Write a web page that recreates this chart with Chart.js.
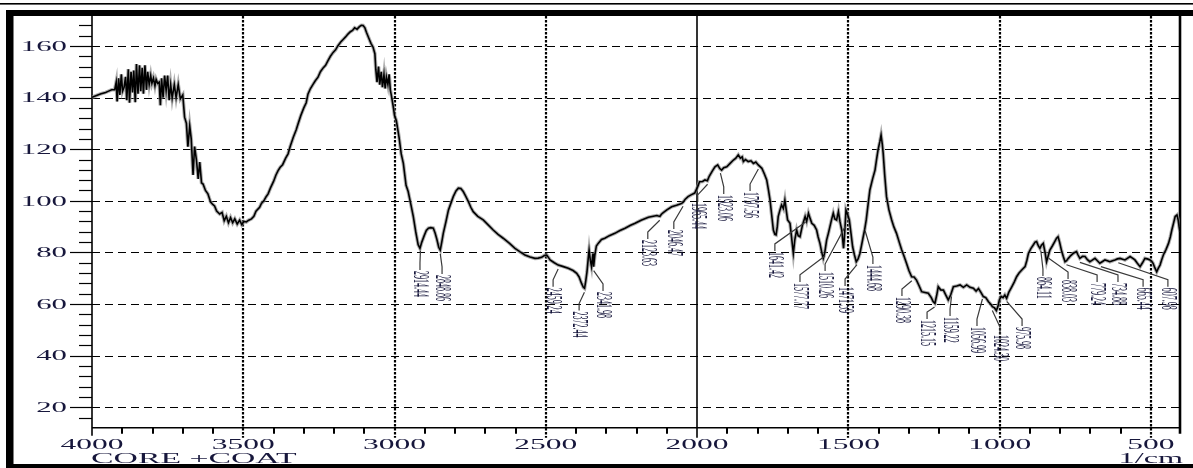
<!DOCTYPE html>
<html>
<head>
<meta charset="utf-8">
<script src="https://cdn.jsdelivr.net/npm/chart.js@4.4.1/dist/chart.umd.min.js"></script>
<style>
  html, body { margin: 0; padding: 0; background: #ffffff; }
  #wrap { position: relative; width: 1193px; height: 468px; }
</style>
</head>
<body>
<div id="wrap"><canvas id="ir" width="1193" height="468"></canvas></div>
<script>
// IR spectrum of the coated core: [wavenumber (1/cm), transmittance]
const spectrumPoints = [
  [4000,140.1],[3985,140.8],[3970,141.5],[3955,142],[3947,142.4],[3935,143],[3925,143],
  [3920,146],[3917,138.5],[3912,147.5],[3908,141],[3903,149],[3899,142.5],[3894,144],[3889,148],
  [3885,139],[3880,151],[3876,138],[3871,150],[3866,142],[3862,150.5],[3857,138.2],[3853,153],
  [3848,141.5],[3843,152.5],[3839,142.5],[3834,151.5],[3830,141.5],[3825,152.5],[3820,143],
  [3816,150],[3811,145],[3806,148.5],[3802,145.5],[3797,147.5],[3792,144.5],[3788,147],[3783,145.5],
  [3778,146],[3774,137],[3770,147.5],[3765,140],[3760,148.5],[3755,142.7],[3750,148.5],[3745,139],
  [3740,145],[3735,139.8],[3728,145],[3722,140],[3715,145],[3708,139.5],[3700,141],
  [3694,132.4],[3688,130],[3683,121],[3677,129],[3672,124],[3666,110],[3661,121],[3655,116],
  [3649,108.5],[3644,115],[3638,107],[3633,106.5],[3625,104],[3617,102.7],[3608,99.5],[3600,98.5],
  [3595,98],[3588,96],[3578,94.9],[3570,95.5],[3563,92.3],[3556,94],[3549,91.5],[3542,93.5],
  [3535,91.5],[3528,93],[3520,91],[3512,92.5],[3505,90.8],[3498,92],[3490,91.8],[3482,92.5],
  [3473,93],[3465,94],[3458,96],[3446,97.5],[3440,99],[3432,100],[3425,101.5],[3418,102.7],
  [3410,105],[3400,107.5],[3392,110],[3385,111.7],[3378,113],[3370,114],[3360,116.5],[3352,118.2],
  [3345,121],[3335,124.5],[3325,127.5],[3319,129.8],[3310,133],[3300,136],[3292,138],[3286,141.4],
  [3278,143.5],[3270,145],[3262,146.5],[3253,147.9],[3245,150],[3236,151.5],[3228,152.5],[3220,154.3],
  [3212,156],[3203,157.5],[3195,158.5],[3187,160.1],[3178,161.5],[3170,162.5],[3162,163.5],[3154,164.6],
  [3146,165.5],[3139,166],[3132,167],[3124,166.5],[3116,167.5],[3110,168],[3104,167.9],[3098,167],
  [3093,165.3],[3085,163],[3078,161],[3071,159.5],[3065,157],
  [3062,151],[3058,146],[3053,152],[3049,145],[3044,150],[3040,144],[3035,149],[3031,143.5],
  [3027,148],[3022,145],[3018,149],[3014,143],[3010,140.5],[3005,137],[3000,133],[2994,131],
  [2985,124.5],[2978,118.2],[2971,114.5],[2962,106],[2955,103.6],[2946,98.5],[2938,93.9],[2930,88],
  [2922,83],[2916,81.6],[2910,84],[2902,86.5],[2895,88.5],[2888,89.4],[2880,89.6],[2872,89.4],
  [2866,87.5],[2860,85],[2854,82],[2849,80.9],[2844,84],[2839,87.4],[2830,92],[2822,96.4],
  [2814,99],[2806,101.6],[2797,103.8],[2789,104.9],[2781,104.8],[2773,103.6],[2765,101.8],[2756,99.7],
  [2748,97.5],[2740,95.8],[2725,94],[2707,92.6],[2690,90.6],[2674,88.7],[2658,87],[2641,85.5],
  [2620,83.5],[2602,81.6],[2585,80.2],[2569,79],[2552,78.2],[2536,77.7],[2525,77.8],[2514,78.1],
  [2505,78.8],[2497,79],[2491,78],[2486,77.1],[2472,76],[2459,75.1],[2442,74.5],[2426,73.9],
  [2410,73],[2398,71.9],[2390,70.5],[2382,68],[2376,66.5],[2372,66.1],[2368,69],[2364,72.5],
  [2360,77.5],[2357,80.9],[2353,77],[2349,74.5],[2346,78],[2344,79.6],[2342,74.5],[2338,79],
  [2333,82.5],[2327,83.5],[2316,85],[2305,85.5],[2290,86.5],[2272,87.4],[2255,88.5],[2238,89.4],
  [2220,90.5],[2205,91.3],[2185,92.5],[2161,93.6],[2145,94],[2133,94.3],[2128,94.1],[2123,94],
  [2118,94.8],[2112,95.4],[2100,96.5],[2084,97.7],[2068,98.3],[2056,98.8],[2051,99],[2046,99.5],
  [2040,100.5],[2030,101.6],[2020,102.3],[2008,103],[1998,105.5],[1992,107.4],[1982,107.5],[1974,108.1],
  [1966,107.8],[1960,109.5],[1950,111.5],[1941,113.2],[1932,113.9],[1925,112.5],[1919,111.9],[1912,112.8],
  [1902,113.2],[1891,114.5],[1880,115.8],[1872,116.5],[1864,117.8],[1857,116.5],[1851,117],[1847,115.2],
  [1840,116],[1831,115.2],[1822,115.5],[1814,114.5],[1806,115],[1798,113.9],[1786,112.6],[1778,110.5],
  [1770,108.1],[1764,104],[1759,100.3],[1754,95],[1748,88.7],[1743,87],[1739,86.8],[1735,90],
  [1732,93.9],[1726,96.5],[1721,98.4],[1715,97],[1710,100.3],[1705,96],[1701,92.6],[1693,91.3],
  [1688,86],[1682,79.6],[1677,85],[1671,88.7],[1666,86.5],[1660,86.1],[1652,90.5],[1643,93.9],
  [1638,92],[1632,95.2],[1626,93],[1621,91.3],[1613,90.5],[1605,88.7],[1600,86],[1594,83.5],
  [1588,80],[1583,77.7],[1578,80],[1572,84.8],[1566,87.5],[1561,90],[1555,93],[1550,95.2],
  [1545,93],[1539,92.6],[1533,95.8],[1528,92],[1522,88.7],[1516,81.6],[1512,88],[1508,96.4],
  [1502,94.5],[1497,92.6],[1491,87],[1486,82.2],[1480,79],[1474,76.4],[1468,77.5],[1462,79.6],
  [1457,82.5],[1452,85.5],[1446,89],[1441,92.6],[1435,98.5],[1429,104.2],[1420,108.5],[1412,111.9],
  [1407,116],[1402,119.7],[1396,123],[1392,125.5],[1388,122],[1385,118.4],[1380,110],[1374,101.6],
  [1366,96.5],[1357,92.6],[1350,90],[1341,87.4],[1332,84],[1324,81],[1316,78.5],[1308,75.8],
  [1300,73],[1291,70.6],[1283,70.5],[1275,69.3],[1266,67],[1258,64.8],[1247,64.5],[1236,64.2],
  [1226,62.5],[1220,61],[1214,60.3],[1208,63.5],[1203,66.7],[1195,65.5],[1186,65.4],[1178,63.5],
  [1170,61.6],[1162,63.5],[1153,66.7],[1142,67],[1131,67.4],[1120,66.5],[1109,67.4],[1098,66.5],
  [1087,66.1],[1078,65],[1070,66],[1062,64.5],[1054,62.9],[1046,62.5],[1037,60.9],[1030,60],
  [1024,59],[1017,58.5],[1011,57.5],[1006,59],[1001,61.6],[995,63],[989,62.5],[983,63.5],
  [977,62.2],[970,64.5],[960,66.7],[952,68.5],[944,70.6],[936,72],[927,73.2],[916,74.5],
  [910,77],[905,79.6],[897,81.5],[889,82.9],[883,84],[878,84.2],[872,82.5],[867,81.6],
  [862,82.8],[856,83.5],[850,80],[845,76.4],[840,78.5],[834,80.9],[826,82.5],[818,84.2],
  [812,85.5],[807,86.1],[802,84],[796,80.9],[790,78.5],[784,76.4],[779,76.8],[773,77.7],
  [765,78.8],[757,79.6],[752,80],[746,80.3],[741,79],[735,77.7],[726,78.5],[718,78.4],
  [710,77.2],[702,76.4],[694,77],[685,77.7],[677,76.8],[669,75.8],[660,76.5],[652,77.1],
  [644,76.8],[636,76.4],[627,76.8],[619,77.1],[611,77.5],[602,77.7],[594,77.4],[586,77.1],
  [578,77.7],[569,78.4],[561,77.8],[553,77.1],[545,75.8],[536,74.5],[528,76],[520,77.7],
  [512,77.5],[503,77.1],[497,76.5],[493,75.8],[487,74],[481,72.5],[476,73.8],[470,75.1],
  [465,77],[459,79],[450,81.2],[442,83.5],[436,86],[431,88.7],[425,91.5],[420,93.9],
  [414,94.5],[410,92.5],[407,90],[404,88]
];

// Axis ticks
const yTickValues = [20, 40, 60, 80, 100, 120, 140, 160];
const xTickValues = [4000, 3500, 3000, 2500, 2000, 1500, 1000, 500];

// Picked peaks
const peakWavenumbers = [2914.44, 2848.86, 2459.24, 2372.44, 2341.98, 2123.63, 2046.47, 1965.44,
  1923.06, 1797.56, 1641.42, 1577.77, 1510.26, 1471.59, 1444.68, 1290.38, 1215.15, 1159.22,
  1056.99, 1024.30, 975.98, 864.11, 838.03, 779.24, 734.88, 665.44, 607.98];
const peakLabels = ['2914.44', '2848.86', '2459.24', '2372.44', '2341.98', '2123.63', '2046.47', '1965.44',
  '1923.06', '1797.56', '1641.42', '1577.77', '1510.26', '1471.59', '1444.68', '1290.38', '1215.15', '1159.22',
  '1056.99', '1024.30', '975.98', '864.11', '838.03', '779.24', '734.88', '665.44', '607.98'];

// Where each peak label sits: [wavenumber of label centre, transmittance at label top]
const peakLabelPlacement = [
  [2916, 72.8], [2843, 71.3], [2476, 66.3], [2390, 57.1], [2311, 64.7], [2163, 84.8], [2077, 88.7],
  [1998, 99.2], [1912, 102.3], [1825, 103.4], [1743, 80.2], [1660, 68.2], [1577, 72.4], [1511, 66.6],
  [1419, 75.1], [1323, 62.7], [1240, 53.8], [1164, 55.0], [1075, 51.1], [999, 48.0], [926, 51.1],
  [857, 70.5], [774, 69.3], [678, 68.2], [609, 68.2], [526, 66.3], [444, 66.3]
];

const INK = '#17173c';
const SERIF = '"Liberation Serif", "DejaVu Serif", serif';

function spectrumAt(wn) {
  for (let i = 0; i < spectrumPoints.length - 1; i++) {
    const [a, ta] = spectrumPoints[i];
    const [b, tb] = spectrumPoints[i + 1];
    if (wn <= a && wn >= b) {
      const f = (a - wn) / (a - b);
      return ta + f * (tb - ta);
    }
  }
  return spectrumPoints[spectrumPoints.length - 1][1];
}

// Horizontally widened text, like the instrument printout
function wideText(ctx, text, x, y, align, sx, font) {
  ctx.save();
  ctx.font = font;
  ctx.fillStyle = INK;
  ctx.textAlign = align;
  ctx.textBaseline = 'alphabetic';
  ctx.translate(x, y);
  ctx.scale(sx, 1);
  ctx.fillText(text, 0, 0);
  ctx.restore();
}

const framePlugin = {
  id: 'irFrame',
  beforeDatasetsDraw(chart) {
    const { ctx, chartArea: ca, scales: { x, y } } = chart;
    ctx.save();
    // horizontal dashed grid + major ticks on the left
    yTickValues.forEach(v => {
      const py = Math.round(y.getPixelForValue(v)) + 0.5;
      ctx.strokeStyle = '#000';
      ctx.lineWidth = 1.2;
      ctx.setLineDash([]);
      ctx.beginPath(); ctx.moveTo(70, py); ctx.lineTo(ca.left, py); ctx.stroke();
      ctx.setLineDash([8, 5]);
      ctx.beginPath(); ctx.moveTo(ca.left, py); ctx.lineTo(ca.right, py); ctx.stroke();
    });
    ctx.setLineDash([]);
    // minor y ticks every 4
    for (let v = 16; v <= 168; v += 4) {
      if (v % 20 === 0) continue;
      const py = Math.round(y.getPixelForValue(v)) + 0.5;
      ctx.lineWidth = 1.2;
      ctx.beginPath(); ctx.moveTo(79, py); ctx.lineTo(ca.left, py); ctx.stroke();
    }
    // vertical grid lines
    xTickValues.forEach(v => {
      if (v === 4000) return;
      const px = Math.round(x.getPixelForValue(v));
      ctx.strokeStyle = '#000';
      if (v === 2000) {
        ctx.setLineDash([]);
        ctx.lineWidth = 1.6;
      } else {
        ctx.setLineDash([2.5, 1.5]);
        ctx.lineWidth = 2.2;
      }
      ctx.beginPath(); ctx.moveTo(px, ca.top); ctx.lineTo(px, ca.bottom + 10); ctx.stroke();
    });
    ctx.setLineDash([]);
    // x minor ticks every 100
    ctx.lineWidth = 2;
    for (let v = 3900; v >= 500; v -= 100) {
      if (v % 500 === 0) continue;
      const px = Math.round(x.getPixelForValue(v));
      ctx.beginPath(); ctx.moveTo(px, ca.bottom); ctx.lineTo(px, ca.bottom + 6); ctx.stroke();
    }
    // axes
    ctx.lineWidth = 1.6;
    ctx.beginPath(); ctx.moveTo(ca.left, ca.top); ctx.lineTo(ca.left, ca.bottom + 8); ctx.stroke();
    ctx.beginPath(); ctx.moveTo(ca.left, ca.bottom); ctx.lineTo(ca.right, ca.bottom); ctx.stroke();
    ctx.lineWidth = 2.6;
    ctx.beginPath(); ctx.moveTo(ca.right, ca.top); ctx.lineTo(ca.right, ca.bottom + 6); ctx.stroke();
    ctx.restore();
  },
  afterDatasetsDraw(chart) {
    const { ctx, scales: { x, y } } = chart;
    ctx.save();
    // leaders and peak labels
    peakWavenumbers.forEach((wn, i) => {
      const xp = x.getPixelForValue(wn);
      const yp = y.getPixelForValue(spectrumAt(wn));
      const [lw, lt] = peakLabelPlacement[i];
      const xl = x.getPixelForValue(lw);
      const yl = y.getPixelForValue(lt);
      ctx.strokeStyle = '#3a3a3a';
      ctx.lineWidth = 1.2;
      ctx.beginPath();
      ctx.moveTo(xp, Math.min(yp + 4, yl - 8));
      ctx.lineTo(xl, yl - 8);
      ctx.lineTo(xl, yl - 1);
      ctx.stroke();
      ctx.save();
      ctx.translate(xl, yl);
      ctx.rotate(Math.PI / 2);
      ctx.scale(1, 2.9);
      ctx.font = '8px ' + SERIF;
      ctx.fillStyle = INK;
      ctx.textAlign = 'left';
      ctx.textBaseline = 'middle';
      ctx.fillText(peakLabels[i], 0, 0);
      ctx.restore();
    });
    ctx.restore();
  },
  afterDraw(chart) {
    const { ctx, scales: { x, y } } = chart;
    // tick labels
    yTickValues.forEach(v => {
      wideText(ctx, String(v), 67, y.getPixelForValue(v) + 4.8, 'right', 2.2, '14px ' + SERIF);
    });
    xTickValues.forEach(v => {
      wideText(ctx, String(v), x.getPixelForValue(v), 449, 'center', 2.25, '14px ' + SERIF);
    });
    wideText(ctx, 'CORE +COAT', 91, 463, 'left', 2.25, '15px ' + SERIF);
    wideText(ctx, '1/cm', 1183, 462.5, 'right', 2.3, '14px ' + SERIF);
    // printout frame
    ctx.save();
    ctx.fillStyle = '#000';
    ctx.fillRect(0, 3, 1193, 1.6);
    ctx.fillRect(6, 10, 1187, 6);
    ctx.fillRect(6, 10, 7.5, 458);
    ctx.fillRect(6, 464, 1187, 4);
    ctx.restore();
  }
};

new Chart(document.getElementById('ir'), {
  type: 'line',
  data: {
    datasets: [
      {
        data: spectrumPoints.map(([wn, t]) => ({ x: wn, y: t })),
        borderColor: '#000000',
        borderWidth: 1.6,
        pointRadius: 0,
        tension: 0,
        order: 1
      },
      {
        data: spectrumPoints.map(([wn, t]) => ({ x: wn, y: t })),
        borderColor: 'rgba(140,140,140,0.7)',
        borderWidth: 3.6,
        pointRadius: 0,
        tension: 0,
        order: 2
      }
    ]
  },
  options: {
    responsive: false,
    animation: false,
    devicePixelRatio: 1,
    layout: { padding: { top: 16, right: 13, left: 0, bottom: 0 } },
    plugins: { legend: { display: false }, tooltip: { enabled: false } },
    scales: {
      x: {
        type: 'linear', reverse: true, min: 404, max: 4000,
        ticks: { display: false }, grid: { display: false }, border: { display: false },
        afterFit: s => { s.height = 40.3; }
      },
      y: {
        min: 12.1, max: 171.6,
        ticks: { display: false }, grid: { display: false }, border: { display: false },
        afterFit: s => { s.width = 92; }
      }
    }
  },
  plugins: [framePlugin]
});
</script>
</body>
</html>
